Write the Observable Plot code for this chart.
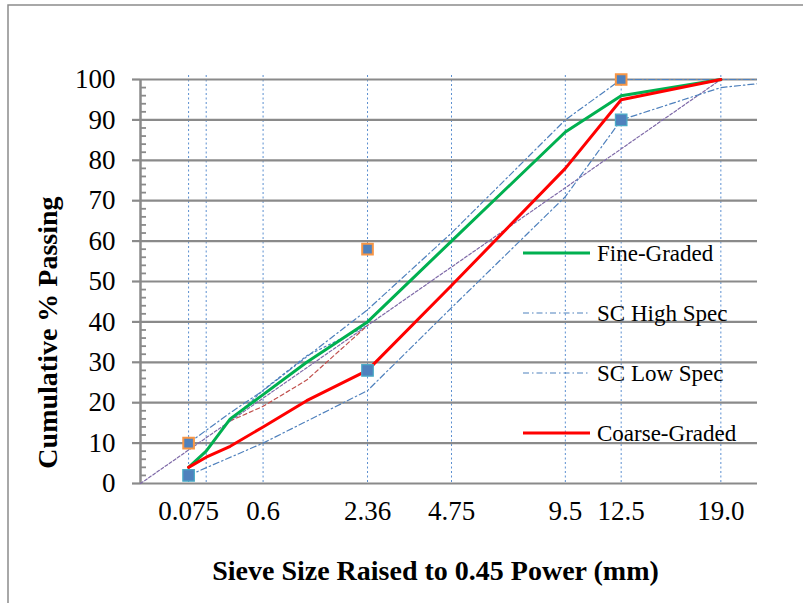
<!DOCTYPE html>
<html><head><meta charset="utf-8">
<script src="https://cdn.jsdelivr.net/npm/d3@7"></script>
<script src="https://cdn.jsdelivr.net/npm/@observablehq/plot@0.6"></script>
<style>
html,body{margin:0;padding:0;background:#fff;}
#chart{width:803px;height:603px;overflow:hidden;}
</style></head><body><div id="chart"></div>
<script>
// ---- data (sieve sizes in mm, % passing) ----
const sieves = [0.075, 0.15, 0.3, 0.6, 1.18, 2.36, 4.75, 9.5, 12.5, 19];
const fineGraded = [4, 8, 16, 22, 30, 40, 60, 87, 96, 100];
const coarseGraded = [4, 6.5, 9.2, 14, 20.5, 28, 49, 78, 95, 100];
const highSpecSieves = [0.075, 0.3, 0.6, 2.36, 4.75, 9.5, 12.5, 19, 25];
const highSpec = [10, 17.5, 23, 43, 62, 90, 100, 100, 100];
const lowSpecSieves = [0.075, 0.6, 2.36, 4.75, 9.5, 12.5, 19, 25];
const lowSpec = [2, 10, 23, 43.5, 71, 90, 98, 100];
const maxDensitySieves = [0, 19];
const maxDensity = [0, 100];
const rzSieves = [0.3, 0.6, 1.18, 2.36];
const rzLower = [15.5, 19.1, 25.6, 39.1];
const rzUpper = [15.5, 23.1, 31.6, 39.1];
const cpSieves = [0.075, 2.36, 12.5];
const cpUpper = [10, 58, 100];
const cpLower = [2, 28, 90];
const gridSieves = [0.075, 0.15, 0.6, 2.36, 4.75, 9.5, 12.5, 19];
const xTicks = [0.075, 0.6, 2.36, 4.75, 9.5, 12.5, 19];
const xTickLabels = ["0.075", "0.6", "2.36", "4.75", "9.5", "12.5", "19.0"];
const yTicks = [0, 10, 20, 30, 40, 50, 60, 70, 80, 90, 100];
const yMinorTicks = [2,4,6,8,12,14,16,18,22,24,26,28,32,34,36,38,42,44,46,48,52,54,56,58,62,64,66,68,72,74,76,78,82,84,86,88,92,94,96,98];
const legendNames = ["Fine-Graded", "SC High Spec", "SC Low Spec", "Coarse-Graded"];
const xTitle = "Sieve Size Raised to 0.45 Power (mm)";
const yTitle = "Cumulative % Passing";

const pts = (xs, ys) => xs.map((x, i) => ({x, y: ys[i]}));

const SERIF = '"Liberation Serif", "Times New Roman", serif';
const GRID = "#8a8a8a";
const BLUE = "#4f81bd";
const styles = {
  "Fine-Graded": {stroke: "#00b050", strokeWidth: 3, dash: null},
  "SC High Spec": {stroke: BLUE, strokeWidth: 1.2, dash: "6,3,1.5,3"},
  "SC Low Spec": {stroke: BLUE, strokeWidth: 1.2, dash: "6,3,1.5,3"},
  "Coarse-Graded": {stroke: "#ff0000", strokeWidth: 3, dash: null}
};

const chart = Plot.plot({
  width: 803, height: 603,
  marginLeft: 140, marginRight: 46, marginTop: 79, marginBottom: 120,
  x: {type: "pow", exponent: 0.45, domain: [0, 21.77]},
  y: {domain: [0, 100]},
  style: {fontFamily: SERIF, fontSize: "27px", color: "black", background: "white", overflow: "visible"},
  marks: [
    Plot.ruleX(gridSieves, {stroke: "#5b8fd0", strokeWidth: 1, strokeDasharray: "2,2.5", insetTop: -4}),
    Plot.ruleY(yTicks, {stroke: GRID, strokeWidth: 2.2}),
    Plot.ruleX([0], {stroke: GRID, strokeWidth: 2.5}),
    Plot.axisY({ticks: yTicks, tickSize: 8, tickPadding: 17, stroke: GRID, strokeWidth: 2.2, fill: "black", label: null}),
    Plot.axisY({ticks: yMinorTicks, tickSize: -6, stroke: GRID, strokeWidth: 1.8, fill: "none", label: null}),
    Plot.axisX({ticks: xTicks, tickSize: 0, tickPadding: 17, tickFormat: d => xTickLabels[xTicks.indexOf(d)], label: null}),
    Plot.line(pts(maxDensitySieves, maxDensity), {x: "x", y: "y", stroke: "#7f6aa8", strokeWidth: 1.2, strokeDasharray: "3,2"}),
    Plot.line(pts(rzSieves, rzLower), {x: "x", y: "y", stroke: "#c0504d", strokeWidth: 1.2, strokeDasharray: "4,3"}),
    Plot.line(pts(rzSieves, rzUpper), {x: "x", y: "y", stroke: BLUE, strokeWidth: 1.2, strokeDasharray: "2,3"}),
    Plot.line(pts(highSpecSieves, highSpec), {x: "x", y: "y", stroke: styles["SC High Spec"].stroke, strokeWidth: 1.2, strokeDasharray: styles["SC High Spec"].dash, clip: true}),
    Plot.line(pts(lowSpecSieves, lowSpec), {x: "x", y: "y", stroke: styles["SC Low Spec"].stroke, strokeWidth: 1.2, strokeDasharray: styles["SC Low Spec"].dash, clip: true}),
    Plot.line(pts(sieves, fineGraded), {x: "x", y: "y", stroke: styles["Fine-Graded"].stroke, strokeWidth: 3}),
    Plot.line(pts(sieves, coarseGraded), {x: "x", y: "y", stroke: styles["Coarse-Graded"].stroke, strokeWidth: 3}),
    Plot.dot(pts(cpSieves, cpUpper), {x: "x", y: "y", symbol: "square", r: 6, fill: BLUE, stroke: "#f79646", strokeWidth: 2}),
    Plot.dot(pts(cpSieves, cpLower), {x: "x", y: "y", symbol: "square", r: 6.5, fill: BLUE, stroke: "#4bacc6", strokeWidth: 1.2})
  ]
});
document.getElementById("chart").appendChild(chart);

// ---- decorations: chart border, titles, in-plot legend ----
const svg = d3.select(chart);
svg.append("path").attr("d", "M8,603V5H803").attr("fill", "none").attr("stroke", "#8c8c8c").attr("stroke-width", 1.5);

svg.append("text").text(xTitle)
  .attr("x", 435.5).attr("y", 580).attr("text-anchor", "middle")
  .attr("font-family", SERIF).attr("font-weight", "bold").attr("font-size", 28).attr("fill", "black");
svg.append("text").text(yTitle)
  .attr("transform", "translate(57,332.5) rotate(-90)").attr("text-anchor", "middle")
  .attr("font-family", SERIF).attr("font-weight", "bold").attr("font-size", 28).attr("fill", "black");

const lg = svg.append("g").attr("transform", "translate(523,253)");
legendNames.forEach((name, i) => {
  const s = styles[name];
  const row = lg.append("g").attr("transform", `translate(0,${i * 60})`);
  row.append("line").attr("x1", 0).attr("x2", 67).attr("y1", 0).attr("y2", 0)
    .attr("stroke", s.stroke).attr("stroke-width", s.strokeWidth)
    .attr("stroke-dasharray", s.dash);
  row.append("text").text(name).attr("x", 74).attr("y", 0).attr("dy", "0.36em")
    .attr("text-anchor", "start")
    .attr("font-family", SERIF).attr("font-size", 23).attr("fill", "black");
});
</script></body></html>
